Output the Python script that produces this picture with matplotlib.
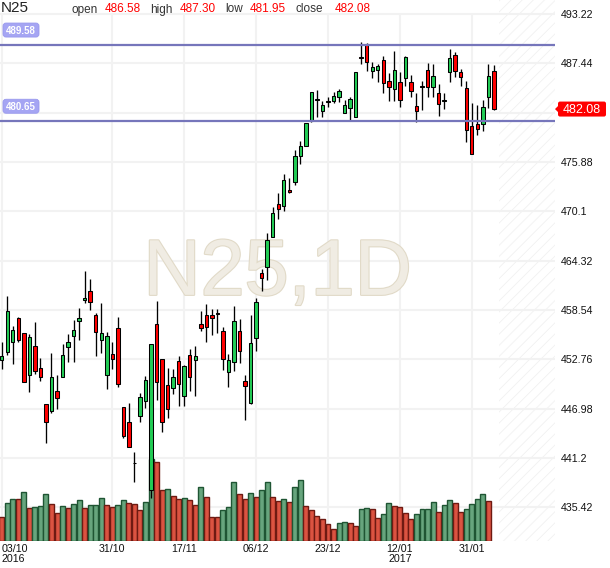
import matplotlib
matplotlib.use('Agg')
import matplotlib.pyplot as plt
import matplotlib.patheffects as pe
from matplotlib.patches import FancyBboxPatch, Polygon
from matplotlib.transforms import IdentityTransform
import numpy as np

## data: daily candles, 03/10/2016 .. 06/02/2017
opens = [452.63, 453.57, 454.74, 457.55, 455.79, 450.87, 454.27, 451.69, 447.47, 446.73,
         448.99, 450.72, 454.23, 455.44, 457.20, 459.66, 460.72, 457.90, 454.97, 450.87,
         453.33, 456.38, 447.12, 445.36, 440.60, 446.06, 447.82, 437.43, 456.84, 452.74,
         449.69, 449.34, 452.55, 448.48, 453.21, 452.70, 456.88, 457.94, 457.90, 458.15,
         456.02, 451.30, 452.39, 456.02, 450.16, 447.66, 455.20, 462.82, 463.52, 467.12,
         470.91, 470.75, 472.55, 473.56, 476.61, 477.79, 480.72, 483.18, 481.89, 482.94,
         483.06, 483.45, 481.65, 482.24, 481.18, 488.15, 489.67, 486.50, 486.62, 487.79,
         485.33, 484.39, 485.21, 485.68, 485.21, 482.44, 484.76, 486.62, 484.63, 483.92,
         483.06, 486.38, 488.38, 486.38, 484.51, 480.09, 480.29, 480.29, 483.45, 486.58]
highs = [454.82, 460.17, 456.69, 457.75, 455.87, 455.72, 457.12, 452.86, 447.47, 453.45,
         450.91, 454.54, 455.72, 457.32, 458.72, 463.06, 462.12, 458.22, 459.31, 455.99,
         454.74, 457.67, 447.12, 447.58, 441.84, 448.76, 450.83, 454.50, 459.62, 452.74,
         451.69, 451.57, 453.13, 452.08, 453.91, 454.27, 458.45, 459.19, 458.60, 458.60,
         456.57, 453.37, 458.95, 457.43, 450.91, 458.00, 459.89, 463.29, 467.51, 470.56,
         472.27, 474.42, 473.95, 477.28, 478.37, 480.48, 484.11, 484.31, 483.06, 483.53,
         484.11, 484.39, 483.14, 483.45, 486.46, 489.90, 489.78, 487.56, 487.32, 488.34,
         486.27, 488.92, 486.38, 488.34, 486.07, 484.00, 485.41, 487.44, 487.32, 484.98,
         483.92, 489.08, 488.73, 486.74, 485.41, 482.83, 482.56, 483.14, 487.32, 487.30]
lows = [451.57, 453.26, 452.16, 454.82, 450.05, 448.96, 450.99, 450.25, 442.90, 446.50,
        446.96, 450.64, 452.47, 452.47, 455.05, 459.39, 458.53, 453.18, 453.53, 449.31,
        451.57, 449.47, 443.53, 442.43, 438.32, 445.44, 447.00, 436.45, 447.98, 444.26,
        445.90, 448.68, 447.27, 447.27, 449.03, 448.44, 456.10, 454.81, 455.59, 455.87,
        451.49, 449.50, 451.37, 452.27, 445.63, 447.51, 453.76, 460.79, 462.08, 467.12,
        469.15, 470.13, 472.20, 473.17, 475.60, 477.75, 480.60, 481.18, 481.18, 482.28,
        482.75, 482.90, 481.65, 480.68, 481.10, 487.32, 486.54, 485.76, 485.29, 484.00,
        483.06, 483.06, 482.36, 484.82, 483.45, 480.52, 481.93, 483.49, 483.45, 481.31,
        482.05, 485.29, 485.88, 484.78, 478.18, 476.81, 479.04, 479.51, 482.24, 481.95]
closes = [453.10, 458.37, 456.15, 454.97, 450.13, 455.33, 451.34, 450.72, 445.36, 450.64,
          448.18, 453.22, 454.74, 456.15, 457.55, 459.90, 459.43, 455.91, 455.79, 455.44,
          452.75, 449.82, 443.80, 442.43, 440.58, 448.29, 450.32, 454.50, 450.12, 445.44,
          446.88, 450.63, 449.81, 451.92, 450.71, 453.09, 456.45, 456.49, 457.55, 458.10,
          452.82, 452.66, 457.27, 453.68, 449.62, 454.62, 459.42, 462.23, 466.73, 469.85,
          470.40, 473.72, 472.31, 476.57, 477.74, 480.40, 484.04, 483.24, 482.51, 482.97,
          483.57, 484.23, 482.51, 483.22, 486.38, 488.10, 487.56, 486.97, 487.09, 485.09,
          484.70, 486.62, 483.10, 488.14, 484.16, 481.81, 484.72, 484.63, 486.00, 482.71,
          483.08, 488.03, 486.50, 485.88, 479.59, 476.81, 479.70, 482.28, 485.92, 482.08]

volumes = [71, 114, 125, 125, 146, 98, 101, 104, 140, 110,
           83, 104, 98, 110, 122, 98, 107, 107, 128, 107,
           101, 107, 122, 114, 110, 92, 116, 246, 238, 152,
           155, 134, 125, 128, 122, 107, 161, 131, 71, 71,
           92, 101, 176, 140, 125, 143, 131, 152, 176, 131,
           119, 125, 116, 161, 182, 104, 92, 74, 65, 50,
           35, 53, 56, 53, 44, 95, 98, 95, 68, 80,
           113, 104, 101, 83, 65, 80, 95, 95, 116, 86,
           107, 122, 113, 86, 95, 110, 125, 140, 119]
# g = up volume, r = down volume
vol_dir = ("rggrgrgggr" "rgrggrgggr" "rggrrrggrr" "grrgrrgrrr" "gggrrgrggr"
           "rgrggrrrrr" "rggrrggrrg" "grrrrggggr" "ggrrggggr")

levels = [489.58, 480.65]

price_ticks = [435.42, 441.2, 446.98, 452.76, 458.54, 464.32, 470.1, 475.88, 481.66, 487.44, 493.22]
price_labels = ['435.42', '441.2', '446.98', '452.76', '458.54', '464.32', '470.1', '475.88', '', '487.44', '493.22']

date_pos = [0, 20, 33, 46, 59, 72, 85]
date_labels = ['03/10\n2016', '31/10', '17/11', '06/12', '23/12', '12/01\n2017', '31/01']

symbol = 'N25'
period = '1D'


def main():
  plt.rcParams['font.family'] = ['Liberation Sans', 'DejaVu Sans']
  plt.rcParams['hatch.linewidth'] = 0.6

  fig = plt.figure(figsize=(6.1, 5.68), dpi=100)
  ax = fig.add_axes([0, 27/568., 555/610., 541/568.])

  n = len(opens)
  x = np.arange(n)
  o = np.array(opens); c = np.array(closes)
  h = np.array(highs); l = np.array(lows)

  ymin, ymax = 431.46, 494.86
  xmax = 100.05
  ax.set_xlim(-0.31, xmax)
  ax.set_ylim(ymin, ymax)

#grid + future area
  ax.set_axisbelow(True)
  ax.grid(True, axis='y', color='#f2f2f2', lw=1.5)
  ax.vlines(date_pos, ymin, price_ticks[-1], color='#f2f2f2', lw=1.5, zorder=0.5)
  ax.axvspan(n - 0.1, xmax, facecolor='white', edgecolor='#f1f1f1', hatch='///', lw=0, zorder=0.2)

#watermark
  ax.text(0.5, 0.455, symbol + ',' + period, transform=ax.transAxes, ha='center', va='baseline',
          fontsize=57, color='#f0ece3', zorder=1,
          path_effects=[pe.withStroke(linewidth=1.6, foreground='#e1dac8')])

#volume
  vol_k = (ymax - ymin) * 0.1516 / max(volumes)
  xv = np.arange(len(volumes))
  vcol = ['#67a57d' if d == 'g' else '#db5341' for d in vol_dir]
  vedge = ['#1f5533' if d == 'g' else '#6e1a12' for d in vol_dir]
  ax.bar(xv, np.array(volumes) * vol_k, bottom=ymin, width=0.9, color=vcol,
         edgecolor=vedge, lw=1.0, zorder=2)

#candles
  up = c >= o
  ccol = np.where(up, '#22cc55', '#ff0000')
  ax.vlines(x, l, h, color='black', lw=0.95, zorder=3)
  body = np.maximum(np.abs(c - o), 0.06)
  ax.bar(x, body, bottom=np.minimum(o, c), width=0.62, color=ccol,
         edgecolor='black', lw=0.75, zorder=4)

#levels
  for lv in levels:
    ax.axhline(lv, color='#7676bb', lw=1.6, zorder=5)

#axes
  for s in ax.spines.values():
    s.set_visible(False)
  ax.yaxis.tick_right()
  ax.set_yticks(price_ticks)
  ax.set_yticklabels(price_labels)
  ax.set_xticks(date_pos)
  ax.set_xticklabels(date_labels)
  ax.tick_params(axis='y', length=0, pad=4.3, labelsize=7.7, labelcolor='#111111')
  ax.tick_params(axis='x', length=0, pad=2.5, labelsize=7.7, labelcolor='#111111')
  for t in ax.get_xticklabels():
    t.set_linespacing(0.95)
  ax.get_xticklabels()[0].set_ha('left')

  fig.canvas.draw()
  idt = IdentityTransform()
  x_right = ax.transAxes.transform((1, 0))[0]

#level labels
  for lv in levels:
    yd = ax.transData.transform((0, lv))[1] + 15
    fig.add_artist(FancyBboxPatch((3, yd - 7), 36, 14, boxstyle='round,pad=0,rounding_size=3',
                                  fc='#a5a5f3', ec='#9999ee', lw=0.6, transform=idt))
    fig.text(21, yd - 0.5, '%.2f' % lv, transform=idt, ha='center', va='center',
             fontsize=7, fontweight='bold', color='white')

#last close label
  last = closes[-1]
  yd = ax.transData.transform((0, last))[1]
  fig.add_artist(Polygon([(x_right, yd), (x_right + 4, yd + 4), (x_right + 4, yd - 4)],
                         closed=True, fc='#ff0000', ec='none', transform=idt))
  fig.add_artist(FancyBboxPatch((x_right + 3, yd - 7.5), 48, 15, boxstyle='round,pad=0,rounding_size=2',
                                fc='#ff0000', ec='none', transform=idt))
  fig.text(x_right + 27, yd - 0.5, '%.2f' % last, transform=idt, ha='center', va='center',
           fontsize=9, color='white')

#header
  yb = 1 - 12.5/568.
  fig.text(1/610., yb, symbol, fontsize=11, color='#222222', va='baseline')
  head = [('open', opens[-1], 71, 105), ('high', highs[-1], 150, 180),
          ('low', lows[-1], 225, 250), ('close', closes[-1], 296, 335)]
  for name, val, xn, xv_ in head:
    fig.text(xn/610., yb, name, fontsize=8.5, color='#333333', va='baseline')
    fig.text(xv_/610., yb, '%.2f' % val, fontsize=8.5, color='#ff0000', va='baseline')

  fig.savefig('out.png', dpi=100)


if __name__ == "__main__":
  main()
